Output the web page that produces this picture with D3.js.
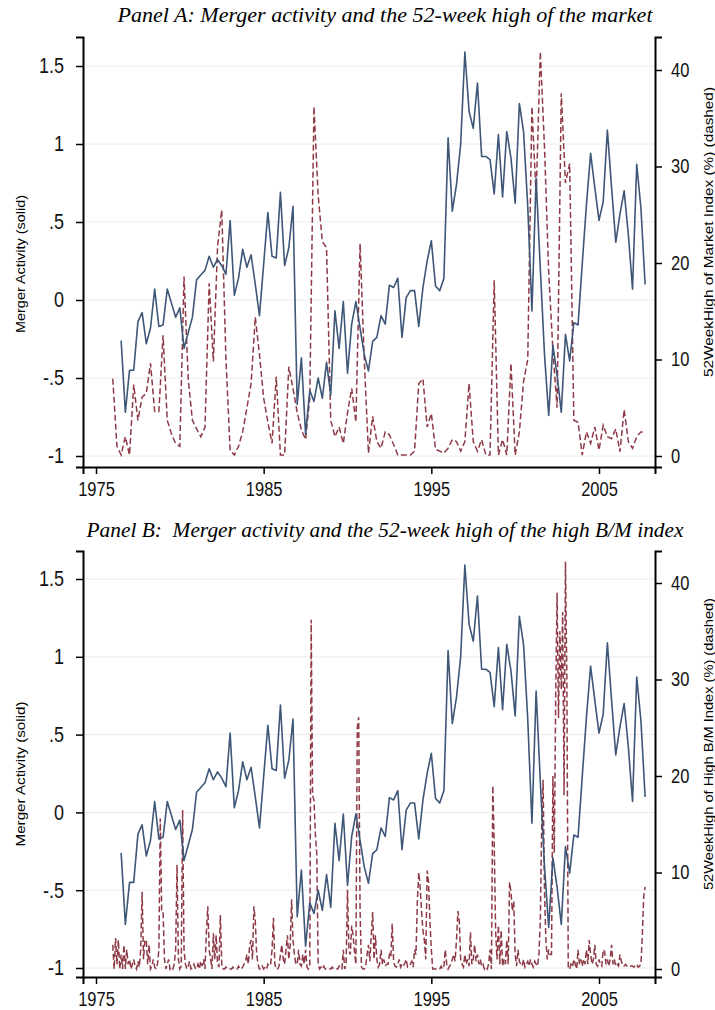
<!DOCTYPE html>
<html>
<head>
<meta charset="utf-8">
<script src="https://cdn.jsdelivr.net/npm/d3@7"></script>
<style>
  body { margin: 0; background: #fff; }
  svg { display: block; }
</style>
</head>
<body>
<div id="chart"></div>
<script>
// ---- data ----
// merger activity, quarterly from 1976Q3 (same series in both panels)
const mergerStart = 1976.5;
const mergerActivity = [
  -0.26, -0.72, -0.45, -0.45, -0.14, -0.08, -0.28, -0.18, 0.07, -0.17, -0.16, 0.07,
  -0.02, -0.11, -0.05, -0.31, -0.21, -0.11, 0.13, 0.16, 0.19, 0.28, 0.21, 0.26,
  0.22, 0.165, 0.51, 0.03, 0.14, 0.325, 0.21, 0.29, 0.10, -0.10, 0.23, 0.56,
  0.28, 0.27, 0.69, 0.22, 0.335, 0.60, -0.67, -0.37, -0.86, -0.58, -0.65, -0.50,
  -0.63, -0.40, -0.61, -0.07, -0.31, -0.01, -0.47, -0.155, -0.01, -0.18, -0.35, -0.455,
  -0.265, -0.24, -0.10, -0.155, 0.095, 0.08, 0.14, -0.24, 0.015, 0.06, 0.06, -0.17,
  0.08, 0.25, 0.38, 0.09, 0.06, 0.14, 1.04, 0.57, 0.74, 1.0, 1.59, 1.21,
  1.10, 1.39, 0.92, 0.92, 0.90, 0.68, 1.06, 0.66, 1.08, 0.91, 0.62, 1.26,
  1.08, 0.60, -0.07, 0.78, 0.2, -0.35, -0.74, -0.29, -0.48, -0.72, -0.22, -0.39,
  -0.145, -0.16, 0.23, 0.61, 0.94, 0.72, 0.51, 0.63, 1.09, 0.72, 0.37, 0.55,
  0.70, 0.42, 0.07, 0.87, 0.59, 0.10
];

// 52-week high of the market index (%), quarterly from 1976Q1
const marketStart = 1976.0;
const marketHigh = [
  8.0, 1.0, 0.1, 2.0, 0.1, 7.4, 3.7, 6.1, 6.5, 9.6, 4.6, 4.6,
  12.5, 3.7, 2.3, 1.3, 1.0, 18.6, 8.0, 3.7, 2.8, 2.0, 3.0, 17.9,
  9.8, 21.7, 25.5, 10.0, 0.6, 0.1, 1.0, 2.5, 5.0, 7.5, 14.4, 10.5,
  6.0, 3.5, 1.3, 8.2, 0.1, 0.1, 9.25, 7.0, 4.5, 2.7, 1.7, 6.0,
  36.2, 27.0, 22.2, 21.6, 3.7, 2.0, 3.0, 1.3, 4.5, 7.0, 3.5, 22.0,
  10.0, 0.3, 4.1, 1.5, 0.8, 2.5, 2.2, 1.2, 0.1, 0.1, 0.1, 0.1,
  0.5, 7.5, 8.0, 3.0, 4.4, 0.7, 0.5, 0.3, 0.8, 1.7, 1.5, 0.5,
  1.5, 7.5, 1.5, 0.5, 1.7, 0.1, 0.1, 18.2, 0.1, 1.7, 0.1, 9.6,
  0.1, 2.5, 7.7, 10.0, 36.2, 26.9, 41.9, 32.0, 19.0, 11.0, 5.0, 37.6,
  28.3, 30.3, 3.7, 3.5, 0.1, 2.5, 1.3, 3.0, 0.6, 3.2, 2.0, 1.8,
  2.8, 0.45, 4.8, 1.5, 0.8, 2.0, 2.5, 2.5
];

// 52-week high of the high B/M index (%), monthly from Jan 1976
const bmStart = 1976.0;
const bmHigh = [
  2.5, 0, 3.2, 0.5, 3.0, 0, 1.5, 0, 2.5, 0, 2, 0.5,
  1, 0, 0.5, 1, 0.3, 0, 0.8, 0.2, 2, 8, 1, 3,
  3, 0.5, 2.5, 0, 0.3, 1, 0.2, 0, 0.5, 2, 15.6, 6,
  6, 1, 0, 0.5, 1, 0, 0.2, 0, 0.5, 2, 10.8, 1,
  0, 0.3, 16.5, 2, 0.5, 0, 0.3, 0.8, 0, 0.2, 0.5, 0.1,
  0, 0.5, 0, 0.8, 0.3, 1, 0, 3.8, 6.5, 2, 1, 0,
  3.7, 1, 3.5, 0.5, 0.2, 5.6, 0.5, 0, 0, 0.2, 0, 0,
  0, 0, 0.2, 0, 0, 0, 0.3, 0, 0, 0.2, 0.5, 0.8,
  1.5, 0.5, 2.5, 3, 1, 6.5, 5, 1.5, 0.5, 0, 0, 0.3,
  0, 0.2, 0, 0.5, 0.3, 0.5, 2, 5.3, 0.5, 0, 0, 0.3,
  1.5, 2.5, 1, 0.5, 2, 3.5, 1, 2.5, 7.2, 3, 1.5, 0.5,
  0.5, 2, 0.5, 0.3, 1.5, 0.5, 2, 0.2, 0, 0.3, 36.2, 18,
  17.5, 14, 12, 0.5, 0, 0.2, 0, 0.3, 0, 0, 0, 0,
  0, 0.2, 0, 0, 0, 0, 0.3, 0, 0, 2, 0, 0.5,
  8.2, 2, 1.5, 4.5, 3.5, 1.8, 0.5, 25, 26.1, 6, 0.2, 0,
  0, 0.3, 1.5, 2.5, 0.8, 3.5, 5.9, 1, 3.5, 1, 0.2, 0.5,
  2, 0.5, 1, 0.3, 0.5, 0.5, 1.5, 1.2, 4.7, 0.8, 0.3, 0.2,
  0.5, 1, 0.2, 0.5, 0.3, 0.6, 1, 0.2, 0.3, 0.5, 0.8, 0.2,
  2, 1.5, 7, 10, 8.5, 6, 4, 3, 1, 10.2, 9, 5,
  2, 0, 0, 0, 0, 0, 0, 0.3, 0, 0.3, 2, 0.5,
  0, 0.3, 0.5, 1, 1.5, 0.8, 3, 6, 5, 1, 0.5, 0.2,
  1.5, 0.5, 1, 0.3, 3.8, 0.5, 1, 2.5, 0.8, 1.5, 0.5, 1,
  0.3, 0.5, 0, 0.2, 0, 0.5, 2, 0, 19, 13, 4, 1,
  4.5, 0.5, 4, 0.3, 1, 0.5, 3, 0.5, 9, 8, 6, 7,
  1.5, 0.3, 2, 0.8, 0.5, 0.3, 1, 0.2, 0.5, 0.8, 0.3, 1,
  0.5, 0.2, 0.8, 0.5, 0.3, 1.5, 5, 15, 19.6, 8, 3, 1,
  2, 1.5, 1.5, 20, 12, 28, 39, 26, 35, 29, 37, 18,
  42.2, 30, 0, 0, 0.5, 0.2, 1, 0.5, 0, 2, 0.5, 1,
  0.3, 1, 0.5, 2, 0.5, 3, 1.5, 0.5, 1, 2.5, 0.5, 0.3,
  1, 0.5, 0.3, 2, 1.8, 0.5, 1, 0.3, 1, 2.5, 0.5, 1,
  0.3, 0.5, 0.3, 1.5, 0.8, 0.3, 0.3, 0.5, 0.3, 0.2, 0.3, 0.3,
  0.3, 0.2, 0.3, 0.5, 0.2, 0.3, 0.5, 3.5, 7.5, 8.5
];

const yearTicks = [1975, 1985, 1995, 2005];
const leftTicks = [-1, -0.5, 0, 0.5, 1, 1.5];
const rightTicks = [0, 10, 20, 30, 40];

const panels = [
  {
    title: "Panel A: Merger activity and the 52-week high of the market",
    rightLabel: "52WeekHigh of Market Index (%) (dashed)",
    dashed: marketHigh, dashedStart: marketStart, dashedStep: 0.25,
    titleY: 22, titleLen: 535, top: 37, bottom: 467,
    leftAt: [456, 66], rightAt: [456, 70],
    leftLabelY: 264, leftLabelLen: 138, rightLabelY: 232, rightLabelLen: 290
  },
  {
    title: "Panel B:  Merger activity and the 52-week high of the high B/M index",
    rightLabel: "52WeekHigh of High B/M Index (%) (dashed)",
    dashed: bmHigh, dashedStart: bmStart, dashedStep: 1 / 12,
    titleY: 537, titleLen: 597, top: 551, bottom: 977,
    leftAt: [968, 579], rightAt: [969, 583],
    leftLabelY: 774, leftLabelLen: 145, rightLabelY: 744, rightLabelLen: 292
  }
];

// ---- chart ----
const W = 715, H = 1010;
const left = 83, right = 655;
const sans = '"Liberation Sans", Arial, Helvetica, sans-serif';
const solidColor = "#3e5677";
const dashColor = "#8e3a46";
const stretch = 1.2; // the original figure is stretched vertically

const svg = d3.select("#chart").append("svg")
  .attr("width", W)
  .attr("height", H);

const x = d3.scaleLinear().domain([1975, 2005]).range([96, 599]);
x.domain([x.invert(left), x.invert(right)]).range([left, right]);

// stata style: 1.5, 1, .5, 0, -.5, -1
const fmtLeft = d => d === 0 ? "0" : (d < 0 ? "-" : "") + String(Math.abs(d)).replace(/^0\./, ".");

panels.forEach(p => {
  const g = svg.append("g");

  const yL = d3.scaleLinear().domain([-1, 1.5]).range(p.leftAt);
  yL.domain([yL.invert(p.bottom), yL.invert(p.top)]).range([p.bottom, p.top]);
  const yR = d3.scaleLinear().domain([0, 40]).range(p.rightAt);
  yR.domain([yR.invert(p.bottom), yR.invert(p.top)]).range([p.bottom, p.top]);

  // title
  g.append("text")
    .attr("transform", `translate(${(left + right) / 2 + 16},${p.titleY}) scale(1,${stretch})`)
    .attr("text-anchor", "middle")
    .attr("font-family", '"Liberation Serif", "Times New Roman", serif')
    .attr("font-style", "italic")
    .attr("font-size", 17)
    .attr("textLength", p.titleLen)
    .attr("lengthAdjust", "spacingAndGlyphs")
    .style("white-space", "pre")
    .text(p.title);

  // grid lines
  g.append("g")
    .selectAll("line")
    .data(leftTicks)
    .join("line")
    .attr("x1", left).attr("x2", right)
    .attr("y1", d => yL(d)).attr("y2", d => yL(d))
    .attr("stroke", "#ececec")
    .attr("stroke-width", 1);

  // series
  const dashedLine = d3.line()
    .x((d, i) => x(p.dashedStart + i * p.dashedStep))
    .y(d => yR(d));
  g.append("path")
    .datum(p.dashed)
    .attr("d", dashedLine)
    .attr("fill", "none")
    .attr("stroke", dashColor)
    .attr("stroke-width", 1.5)
    .attr("stroke-dasharray", "6,3");

  const solidLine = d3.line()
    .x((d, i) => x(mergerStart + i * 0.25))
    .y(d => yL(d));
  g.append("path")
    .datum(mergerActivity)
    .attr("d", solidLine)
    .attr("fill", "none")
    .attr("stroke", solidColor)
    .attr("stroke-width", 1.6)
    .attr("stroke-linejoin", "round");

  // axes
  const axL = g.append("g")
    .attr("transform", `translate(${left},0)`)
    .call(d3.axisLeft(yL).tickValues(leftTicks).tickSize(7).tickPadding(12).tickFormat(fmtLeft));
  const axR = g.append("g")
    .attr("transform", `translate(${right},0)`)
    .call(d3.axisRight(yR).tickValues(rightTicks).tickSize(7).tickPadding(9).tickFormat(d3.format("d")));
  const axB = g.append("g")
    .attr("transform", `translate(0,${p.bottom})`)
    .call(d3.axisBottom(x).tickValues(yearTicks).tickSize(7).tickPadding(8).tickFormat(d3.format("d")));

  [axL, axR, axB].forEach(ax => {
    ax.select(".domain").attr("stroke", "#000").attr("stroke-width", 2);
    ax.selectAll(".tick line").attr("stroke", "#000").attr("stroke-width", 1.5);
    ax.selectAll(".tick text")
      .attr("font-family", sans)
      .attr("fill", "#111")
      .attr("transform", `scale(1,${stretch})`);
  });
  axL.selectAll(".tick text").attr("font-size", 18);
  axR.selectAll(".tick text").attr("font-size", 16.5);
  axB.selectAll(".tick text").attr("font-size", 16.5).attr("y", 14.5 / stretch);

  // axis titles
  g.append("text")
    .attr("transform", `translate(25,${p.leftLabelY}) rotate(-90)`)
    .attr("text-anchor", "middle")
    .attr("font-family", sans)
    .attr("font-size", 13)
    .attr("textLength", p.leftLabelLen)
    .attr("lengthAdjust", "spacingAndGlyphs")
    .text("Merger Activity (solid)");
  g.append("text")
    .attr("transform", `translate(713,${p.rightLabelY}) rotate(-90)`)
    .attr("text-anchor", "middle")
    .attr("font-family", sans)
    .attr("font-size", 13)
    .attr("textLength", p.rightLabelLen)
    .attr("lengthAdjust", "spacingAndGlyphs")
    .text(p.rightLabel);
});
</script>
</body>
</html>
